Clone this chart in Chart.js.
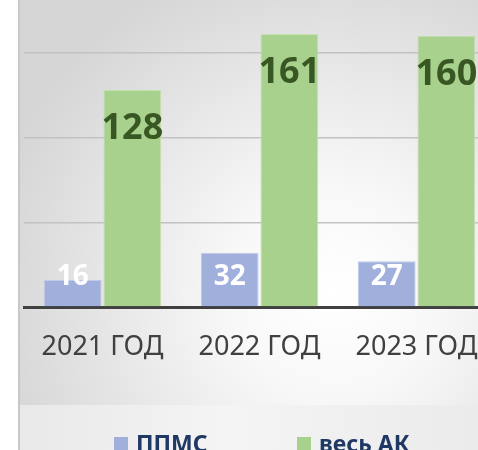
<!DOCTYPE html>
<html>
<head>
<meta charset="utf-8">
<script src="https://cdn.jsdelivr.net/npm/chart.js@4.4.0/dist/chart.umd.min.js"></script>
<style>
html, body { margin: 0; padding: 0; width: 478px; height: 450px; overflow: hidden; background: #fff; font-family: "Noto Sans", sans-serif; }
#panel { position: absolute; left: 18px; top: 0; width: 460px; height: 405px; border-left: 2px solid #c8c8c8;
  background: radial-gradient(ellipse 75% 85% at 68% 72%, #ffffff 0%, #f8f8f8 30%, #d6d6d6 100%); }
#strip { position: absolute; left: 18px; top: 405px; width: 460px; height: 45px; border-left: 2px solid #c8c8c8;
  background: linear-gradient(to right, #e9e9e9, #f4f4f4 45%, #ebebeb); }
#wrap { position: absolute; left: 0; top: -40px; }
#legend { position: absolute; left: 0; top: 0; width: 478px; height: 450px; pointer-events: none; }
.item { position: absolute; top: 427px; font-weight: bold; font-size: 23px; color: #203864; white-space: nowrap; line-height: 32px; }
.item i { display: inline-block; width: 14px; height: 14px; margin-right: 8px; vertical-align: 1px; }
</style>
</head>
<body>
<div id="panel"></div>
<div id="strip"></div>
<div id="wrap"><canvas id="myChart" width="519" height="437"></canvas></div>
<div id="legend"></div>
<script>
var years = ['2021 ГОД', '2022 ГОД', '2023 ГОД'];
var ppms = [16, 32, 27];
var vesAK = [128, 161, 160];
var seriesNames = ['ППМС', 'весь АК'];
var seriesColors = ['#a0afdb', '#a9d18e'];
var edgeColors = ['#c0cbea', '#c4e2b0'];
var labelColors = ['#ffffff', '#385723'];
var labelSizes = [28, 36];

// подписи значений на столбцах
var barLabels = {
    id: 'barLabels',
    afterDatasetsDraw: function(chart) {
        var ctx = chart.ctx;
        var base = chart.scales.y.getPixelForValue(0);
        chart.data.datasets.forEach(function(ds, i) {
            chart.getDatasetMeta(i).data.forEach(function(bar, j) {
                ctx.save();
                ctx.font = 'bold ' + labelSizes[i] + 'px "Noto Sans"';
                ctx.fillStyle = labelColors[i];
                ctx.textAlign = 'center';
                ctx.textBaseline = 'middle';
                var y = i === 0 ? base - 30 : bar.y + 39;
                ctx.fillText(ds.data[j], bar.x, y);
                ctx.restore();
            });
        });
    }
};

var ctx = document.getElementById('myChart').getContext('2d');
var chart = new Chart(ctx, {
    type: 'bar',
    data: {
        labels: years,
        datasets: [
            {
                label: seriesNames[0],
                data: ppms,
                backgroundColor: seriesColors[0],
                borderColor: edgeColors[0],
                borderWidth: 1,
                barPercentage: 0.97,
                categoryPercentage: 0.76
            }, {
                label: seriesNames[1],
                data: vesAK,
                backgroundColor: seriesColors[1],
                borderColor: edgeColors[1],
                borderWidth: 1,
                barPercentage: 0.97,
                categoryPercentage: 0.76
            }
        ]
    },
    options: {
        responsive: false,
        animation: false,
        devicePixelRatio: 1,
        layout: { padding: { left: 24, right: 24, top: 8, bottom: 17.6 } },
        scales: {
            x: {
                grid: { display: false },
                border: { color: '#404040', width: 3 },
                ticks: { color: '#404040', padding: 16, font: { family: 'Noto Sans', size: 27 } }
            },
            y: {
                min: 0,
                max: 200,
                ticks: { stepSize: 50, display: false },
                grid: { color: '#c2c2c2', lineWidth: 1.5, drawTicks: false },
                border: { display: false }
            }
        },
        plugins: {
            legend: { display: false },
            tooltip: { enabled: false }
        }
    },
    plugins: [barLabels]
});

// легенда снизу
var legendLeft = [114, 297];
var legend = document.getElementById('legend');
seriesNames.forEach(function(name, i) {
    var el = document.createElement('div');
    el.className = 'item';
    el.style.left = legendLeft[i] + 'px';
    el.innerHTML = '<i style="background:' + seriesColors[i] + '"></i>' + name;
    legend.appendChild(el);
});
</script>
</body>
</html>
